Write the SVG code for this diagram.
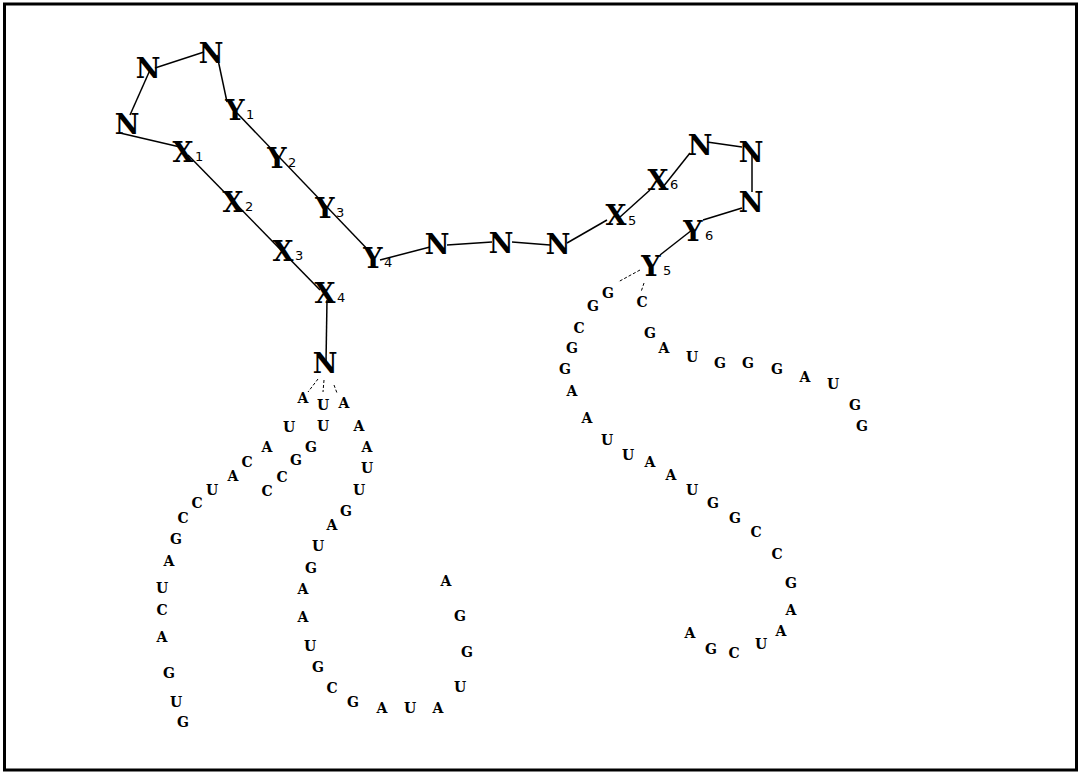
<svg xmlns="http://www.w3.org/2000/svg" width="1080" height="772" viewBox="0 0 1080 772">
<style>
.big{font-family:"DejaVu Serif","Liberation Serif",serif;font-weight:bold;font-size:27px;text-anchor:middle;fill:#000}
.sub{font-family:"DejaVu Sans",sans-serif;font-size:13px;fill:#000}
.s{font-family:"DejaVu Serif","Liberation Serif",serif;font-weight:bold;font-size:14px;text-anchor:middle;fill:#000}
.ln{stroke:#000;stroke-width:1.5;fill:none}
.dl{stroke:#000;stroke-width:1;stroke-dasharray:3,2;fill:none}
</style>
<rect x="4.5" y="4" width="1072" height="766" fill="#fff" stroke="#000" stroke-width="3"/>
<g id="connectors">
<line class="ln" x1="155" y1="68" x2="204" y2="52"/>
<line class="ln" x1="150" y1="70" x2="130" y2="115"/>
<line class="ln" x1="120" y1="133" x2="180" y2="147"/>
<line class="ln" x1="217" y1="55" x2="227" y2="102"/>
<line class="ln" x1="237" y1="113" x2="372" y2="254"/>
<line class="ln" x1="188" y1="155" x2="320" y2="290"/>
<line class="ln" x1="327" y1="300" x2="326" y2="362"/>
<line class="ln" x1="380" y1="260" x2="430" y2="247"/>
<line class="ln" x1="447" y1="245" x2="492" y2="242"/>
<line class="ln" x1="512" y1="242" x2="550" y2="245"/>
<line class="ln" x1="567" y1="243" x2="607" y2="220"/>
<line class="ln" x1="620" y1="217" x2="650" y2="190"/>
<line class="ln" x1="663" y1="187" x2="690" y2="153"/>
<line class="ln" x1="707" y1="142" x2="742" y2="147"/>
<line class="ln" x1="752" y1="150" x2="752" y2="192"/>
<line class="ln" x1="742" y1="208" x2="703" y2="220"/>
<line class="ln" x1="692" y1="230" x2="660" y2="255"/>
<line class="dl" x1="640" y1="270" x2="618" y2="282"/>
<line class="dl" x1="644" y1="283" x2="641" y2="292"/>
<line class="dl" x1="318" y1="379" x2="308" y2="392"/>
<line class="dl" x1="324" y1="380" x2="323" y2="392"/>
<line class="dl" x1="334" y1="385" x2="337" y2="393"/>
</g>
<g id="n-top1"><text class="big" x="148" y="78">N</text></g>
<g id="n-top2"><text class="big" x="211" y="63">N</text></g>
<g id="n-top3"><text class="big" x="127" y="134">N</text></g>
<g id="y1"><text class="big" x="235" y="120">Y</text><text class="sub" x="246" y="119">1</text></g>
<g id="x1"><text class="big" x="183" y="162">X</text><text class="sub" x="195" y="161">1</text></g>
<g id="y2"><text class="big" x="277" y="168">Y</text><text class="sub" x="288" y="167">2</text></g>
<g id="x2"><text class="big" x="233" y="212">X</text><text class="sub" x="245" y="211">2</text></g>
<g id="y3"><text class="big" x="325" y="218">Y</text><text class="sub" x="336" y="217">3</text></g>
<g id="x3"><text class="big" x="283" y="261">X</text><text class="sub" x="295" y="260">3</text></g>
<g id="y4"><text class="big" x="373" y="268">Y</text><text class="sub" x="384" y="267">4</text></g>
<g id="x4"><text class="big" x="325" y="303">X</text><text class="sub" x="337" y="302">4</text></g>
<g id="n-mid1"><text class="big" x="437" y="254">N</text></g>
<g id="n-mid2"><text class="big" x="501" y="253">N</text></g>
<g id="n-mid3"><text class="big" x="558" y="254">N</text></g>
<g id="x5"><text class="big" x="616" y="225">X</text><text class="sub" x="628" y="225">5</text></g>
<g id="x6"><text class="big" x="658" y="190">X</text><text class="sub" x="670" y="189">6</text></g>
<g id="n-r1"><text class="big" x="700" y="155">N</text></g>
<g id="n-r2"><text class="big" x="751" y="162">N</text></g>
<g id="n-r3"><text class="big" x="751" y="212">N</text></g>
<g id="y6"><text class="big" x="693" y="241">Y</text><text class="sub" x="705" y="240">6</text></g>
<g id="y5"><text class="big" x="651" y="276">Y</text><text class="sub" x="663" y="275">5</text></g>
<g id="n-bottom"><text class="big" x="325" y="373">N</text></g>
<g id="seq-left">
<text class="s" x="303" y="403">A</text>
<text class="s" x="323" y="410">U</text>
<text class="s" x="344" y="408">A</text>
<text class="s" x="289" y="432">U</text>
<text class="s" x="323" y="431">U</text>
<text class="s" x="359" y="431">A</text>
<text class="s" x="267" y="452">A</text>
<text class="s" x="311" y="452">G</text>
<text class="s" x="367" y="452">A</text>
<text class="s" x="247" y="467">C</text>
<text class="s" x="296" y="465">G</text>
<text class="s" x="367" y="473">U</text>
<text class="s" x="233" y="481">A</text>
<text class="s" x="282" y="482">C</text>
<text class="s" x="359" y="495">U</text>
<text class="s" x="212" y="495">U</text>
<text class="s" x="267" y="496">C</text>
<text class="s" x="197" y="508">C</text>
<text class="s" x="346" y="516">G</text>
<text class="s" x="183" y="523">C</text>
<text class="s" x="332" y="530">A</text>
<text class="s" x="176" y="544">G</text>
<text class="s" x="169" y="566">A</text>
<text class="s" x="162" y="593">U</text>
<text class="s" x="162" y="615">C</text>
<text class="s" x="162" y="642">A</text>
<text class="s" x="169" y="678">G</text>
<text class="s" x="176" y="707">U</text>
<text class="s" x="183" y="727">G</text>
<text class="s" x="318" y="551">U</text>
<text class="s" x="311" y="573">G</text>
<text class="s" x="303" y="594">A</text>
<text class="s" x="303" y="622">A</text>
<text class="s" x="310" y="651">U</text>
<text class="s" x="318" y="672">G</text>
<text class="s" x="332" y="693">C</text>
<text class="s" x="353" y="707">G</text>
<text class="s" x="382" y="713">A</text>
<text class="s" x="410" y="713">U</text>
<text class="s" x="438" y="713">A</text>
<text class="s" x="460" y="692">U</text>
<text class="s" x="467" y="657">G</text>
<text class="s" x="460" y="621">G</text>
<text class="s" x="446" y="586">A</text>
</g>
<g id="seq-right">
<text class="s" x="608" y="298">G</text>
<text class="s" x="642" y="307">C</text>
<text class="s" x="593" y="311">G</text>
<text class="s" x="579" y="333">C</text>
<text class="s" x="650" y="338">G</text>
<text class="s" x="572" y="353">G</text>
<text class="s" x="664" y="353">A</text>
<text class="s" x="692" y="362">U</text>
<text class="s" x="565" y="374">G</text>
<text class="s" x="720" y="368">G</text>
<text class="s" x="748" y="368">G</text>
<text class="s" x="777" y="374">G</text>
<text class="s" x="805" y="382">A</text>
<text class="s" x="833" y="389">U</text>
<text class="s" x="572" y="396">A</text>
<text class="s" x="855" y="410">G</text>
<text class="s" x="862" y="431">G</text>
<text class="s" x="587" y="423">A</text>
<text class="s" x="607" y="445">U</text>
<text class="s" x="628" y="460">U</text>
<text class="s" x="650" y="467">A</text>
<text class="s" x="671" y="480">A</text>
<text class="s" x="692" y="495">U</text>
<text class="s" x="713" y="508">G</text>
<text class="s" x="735" y="523">G</text>
<text class="s" x="756" y="537">C</text>
<text class="s" x="777" y="559">C</text>
<text class="s" x="791" y="588">G</text>
<text class="s" x="791" y="615">A</text>
<text class="s" x="781" y="636">A</text>
<text class="s" x="761" y="649">U</text>
<text class="s" x="734" y="658">C</text>
<text class="s" x="711" y="654">G</text>
<text class="s" x="690" y="638">A</text>
</g>
</svg>
